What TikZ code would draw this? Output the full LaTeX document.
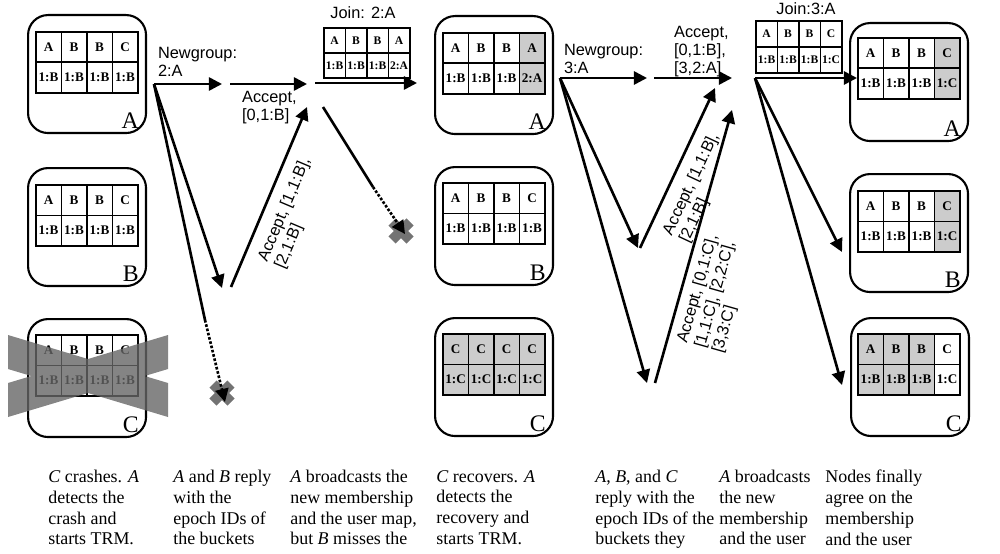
\documentclass[tikz,border=0pt]{standalone}
\usepackage{fontspec}
\setmainfont{Liberation Serif}
\newfontfamily\labelfont{Liberation Sans}
\usetikzlibrary{arrows.meta,positioning}

\tikzset{
  nodebox/.style={draw,line width=1.2pt,rounded corners=0.4cm,anchor=north west,
                  minimum width=2.36cm,minimum height=2.36cm,inner sep=0pt},
  boxname/.style={font=\fontsize{13.5}{14}\selectfont,anchor=south east,inner sep=0pt},
  cell/.style={draw,line width=0.9pt,inner sep=0pt,anchor=north west,
               font=\bfseries\fontsize{7.5}{8}\selectfont},
  joincell/.style={font=\bfseries\fontsize{6.6}{7}\selectfont},
  msg/.style={line width=1.5pt,-{Triangle[length=7.5pt,width=7.5pt]}},
  lost/.style={line width=1.5pt,densely dotted,-{Triangle[length=7.5pt,width=7.5pt]}},
  msglabel/.style={font=\labelfont\fontsize{9.3}{10.4}\selectfont,align=left,inner sep=1pt},
  caption/.style={font=\fontsize{10.2}{11.8}\selectfont,align=left,anchor=north west,inner sep=0pt},
  crossmark/.style={line width=0.2cm,draw=black!55}
}
\colorlet{shade}{black!20}

% #1 extra cell options, #2 name, #3 x, #4 y, #5 cell width, #6 cell height, #7 cells
\newcommand{\bucketrow}[7][]{%
  \foreach \cname/\cepoch/\ctone [count=\i from 0] in {#7}{
    \node[cell,#1,fill=\ctone,minimum width=#5*0.02cm,minimum height=#6*0.02cm]
      (#2-k\i) at (#3+\i*#5,#4) {\cname};
    \node[cell,#1,fill=\ctone,minimum width=#5*0.02cm,minimum height=#6*0.02cm]
      (#2-e\i) at (#3+\i*#5,#4+#6) {\cepoch};
  }}

\begin{document}
\begin{tikzpicture}[x=0.02cm,y=-0.02cm]
\useasboundingbox (0,0) rectangle (1000,554);
\clip (0,0) rectangle (1000,554);

% --- nodes before TRM
\node[nodebox] (a1) at (27,14) {};
\node[nodebox] (b1) at (27,167) {};
\node[nodebox] (c1) at (27,318) {};
\foreach \n/\t in {a1/A,b1/B,c1/C}
  \node[boxname] at ([shift={(-8,-5)}]\n.south east) {\t};
\bucketrow{ta1}{35}{31}{25.5}{30.5}{A/1:B/white,B/1:B/white,B/1:B/white,C/1:B/white}
\bucketrow{tb1}{35}{184}{25.5}{30.5}{A/1:B/white,B/1:B/white,B/1:B/white,C/1:B/white}
\bucketrow{tc1}{35}{334}{25.5}{30.5}{A/1:B/white,B/1:B/white,B/1:B/white,C/1:B/white}
% crash of C
\fill[black!60,fill opacity=0.8] (8,335) -- (168,383) -- (168,417) -- (8,369) -- cycle
  (8,383) -- (168,335) -- (168,369) -- (8,417) -- cycle;

% --- first round
\coordinate (s1) at (154,84);
\coordinate (n1) at (222,84);
\coordinate (r1) at (222,288);
\coordinate (q1) at (231,287);
\coordinate (j1a) at (230,84);
\coordinate (j1) at (307,84);
\coordinate (j1b) at (307,107);
\coordinate (f1) at (205,320);
\coordinate (x1) at (225,402);
\draw[crossmark] (213,384) -- (231,402) (213,402) -- (231,384);
\draw[msg] (s1) -- (n1);
\draw[msg] (s1) -- (r1);
\draw[line width=1.5pt] (s1) -- (f1);
\draw[lost] (f1) -- (x1);
\draw[msg] (j1a) -- (j1);
\draw[msg] (q1) -- node[msglabel,sloped,below=5pt,pos=0.47] {Accept, [1,1:B],\\{}[2,1:B]} (j1b);
\node[msglabel,anchor=north west] (ng1) at (156,45) {Newgroup:\\2:A};
\node[msglabel,anchor=north west] (ac1) at (240,89) {Accept,\\{}[0,1:B]};

% --- join 2:A
\node[msglabel,font=\labelfont\fontsize{9.3}{10}\selectfont] (jn2) at (363,13) {Join: 2:A};
\bucketrow[joincell]{tj2}{323}{27}{21.5}{25}{A/1:B/white,B/1:B/white,B/1:B/white,A/2:A/white}
\coordinate (s2) at (315,83);
\coordinate (e2) at (417,83);
\coordinate (d2) at (323,107);
\coordinate (f2) at (373,187);
\coordinate (x2) at (405,234);
\draw[msg] (s2) -- (e2);
\draw[crossmark] (392,222) -- (410,240) (392,240) -- (410,222);
\draw[line width=1.5pt] (d2) -- (f2);
\draw[lost] (f2) -- (x2);

% --- nodes after first round
\node[nodebox] (a2) at (434,15) {};
\node[nodebox] (b2) at (434,166) {};
\node[nodebox] (c2) at (434,317) {};
\foreach \n/\t in {a2/A,b2/B,c2/C}
  \node[boxname] at ([shift={(-8,-5)}]\n.south east) {\t};
\bucketrow{ta2}{442}{32}{25.5}{30.5}{A/1:B/white,B/1:B/white,B/1:B/white,A/2:A/shade}
\bucketrow{tb2}{442}{182}{25.5}{30.5}{A/1:B/white,B/1:B/white,B/1:B/white,C/1:B/white}
\bucketrow{tc2}{442}{333}{25.5}{30.5}{C/1:C/shade,C/1:C/shade,C/1:C/shade,C/1:C/shade}

% --- second round
\coordinate (s3) at (560,78);
\coordinate (n3) at (647,78);
\coordinate (r3) at (638,248);
\coordinate (q3) at (640,248);
\coordinate (t3) at (647,383);
\coordinate (u3) at (655,383);
\coordinate (j3a) at (654,78);
\coordinate (j3) at (732,78);
\coordinate (j3b) at (715,88);
\coordinate (j3c) at (732,110);
\draw[msg] (s3) -- (n3);
\draw[msg] (s3) -- (r3);
\draw[msg] (s3) -- (t3);
\draw[msg] (j3a) -- (j3);
\draw[msg] (q3) -- node[msglabel,sloped,below=5pt,pos=0.45] {Accept, [1,1:B],\\{}[2,1:B]} (j3b);
\draw[msg] (u3) -- node[msglabel,sloped,below=3pt,pos=0.36] {Accept, [0,1:C],\\{}[1,1:C], [2,2:C],\\{}[3,3:C]} (j3c);
\node[msglabel,anchor=north west] (ng3) at (562,42) {Newgroup:\\3:A};
\node[msglabel,anchor=north west] (ac3) at (672,24) {Accept,\\{}[0,1:B],\\{}[3,2:A]};

% --- join 3:A
\node[msglabel,font=\labelfont\fontsize{9.3}{10}\selectfont] (jn3) at (806,9) {Join:3:A};
\bucketrow[joincell]{tj3}{755}{20}{21.5}{26}{A/1:B/white,B/1:B/white,B/1:B/white,C/1:C/white}
\coordinate (s4) at (755,78);
\coordinate (ea4) at (857,78);
\coordinate (eb4) at (842,252);
\coordinate (ec4) at (842,385);
\draw[msg] (s4) -- (eb4);
\draw[msg] (s4) -- (ec4);

% --- final nodes
\node[nodebox] (a3) at (849,22) {};
\node[nodebox] (b3) at (849,173) {};
\node[nodebox] (c3) at (850,317) {};
\foreach \n/\t in {a3/A,b3/B,c3/C}
  \node[boxname] at ([shift={(-8,-5)}]\n.south east) {\t};
\bucketrow{ta3}{857}{37}{25.5}{30.5}{A/1:B/white,B/1:B/white,B/1:B/white,C/1:C/shade}
\bucketrow{tb3}{857}{190}{25.5}{30.5}{A/1:B/white,B/1:B/white,B/1:B/white,C/1:C/shade}
\bucketrow{tc3}{857}{333}{25.5}{30.5}{A/1:B/shade,B/1:B/shade,B/1:B/shade,C/1:C/white}
\draw[msg] (s4) -- (ea4);

% --- captions
\node[caption] (cap1) at (48,470) {\textit{C} crashes. \textit{A}\\ detects the\\ crash and\\ starts TRM.};
\node[caption] (cap2) at (173,470) {\textit{A} and \textit{B} reply\\ with the\\ epoch IDs of\\ the buckets};
\node[caption] (cap3) at (290,470) {\textit{A} broadcasts the\\ new membership\\ and the user map,\\ but \textit{B} misses the};
\node[caption] (cap4) at (436,470) {\textit{C} recovers. \textit{A}\\ detects the\\ recovery and\\ starts TRM.};
\node[caption] (cap5) at (595,470) {\textit{A}, \textit{B}, and \textit{C}\\ reply with the\\ epoch IDs of the\\ buckets they};
\node[caption] (cap6) at (719,470) {\textit{A} broadcasts\\ the new\\ membership\\ and the user};
\node[caption] (cap7) at (825,470) {Nodes finally\\ agree on the\\ membership\\ and the user};
\end{tikzpicture}
\end{document}
